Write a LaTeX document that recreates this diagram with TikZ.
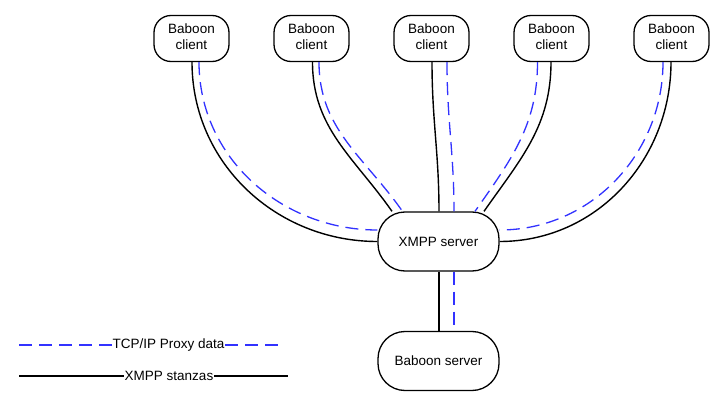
\documentclass[tikz,border=0pt]{standalone}
\usepackage{fontspec}
\setmainfont{Liberation Sans}
\usepackage{tikz}
\usetikzlibrary{calc}
\definecolor{proxy-blue}{RGB}{50, 50, 255}
\tikzset{
  client/.style={draw, line width=1.3pt, rounded corners=17pt, minimum width=75pt, minimum height=46pt, align=center, inner sep=0pt, font=\fontsize{13.5}{16}\selectfont},
  server/.style={draw, line width=1.3pt, rounded corners=27pt, minimum width=121pt, minimum height=59pt, inner sep=0pt, font=\fontsize{13.5}{16}\selectfont},
  stanza/.style={line width=1.4pt, black},
  proxy/.style={line width=1.3pt, proxy-blue, dash pattern=on 13pt off 7pt},
  legend/.style={fill=white, inner sep=0.5pt, font=\fontsize{13.5}{16}\selectfont}
}

\begin{document}
\begin{tikzpicture}[x=1pt,y=1pt]
   \useasboundingbox (0,0) rectangle (726,405);
   % clients on top
   \node[client] (c1) at (191.5,366.5) {Baboon\\client\vphantom{p}};
   \node[client] (c2) at (311.5,366.5) {Baboon\\client\vphantom{p}};
   \node[client] (c3) at (431.5,366.5) {Baboon\\client\vphantom{p}};
   \node[client] (c4) at (551.5,366.5) {Baboon\\client\vphantom{p}};
   \node[client] (c5) at (671.5,366.5) {Baboon\\client\vphantom{p}};
   % servers
   \node[server] (xmpp) at (438.5,163.5) {XMPP server};
   \node[server] (bsrv) at (438.5,44) {Baboon server};
   % xmpp stanzas
   \draw[stanza] ($(c1.south)+(0.5,0)$) to[out=-90,in=180] (xmpp.west);
   \draw[stanza] ($(c2.south)+(1,0)$) to[out=-90,in=125] ($(xmpp.north)+(-46.5,0)$);
   \draw[stanza] ($(c3.south)+(0.5,0)$) to[out=-90,in=90] ($(xmpp.north)+(0.5,0)$);
   \draw[stanza] ($(c4.south)+(-0.5,0)$) to[out=-90,in=55] ($(xmpp.north)+(45.5,0)$);
   \draw[stanza] ($(c5.south)+(-0.5,0)$) to[out=-90,in=0] (xmpp.east);
   \draw[stanza] ($(xmpp.south)+(0.5,0)$) -- ($(bsrv.north)+(0.5,0)$);
   % proxy data
   \draw[proxy] ($(c1.south)+(7.5,0)$) to[out=-90,in=180] ($(xmpp.west)+(0,11.5)$);
   \draw[proxy] ($(c2.south)+(7.5,0)$) to[out=-90,in=125] ($(xmpp.north)+(-36,0)$);
   \draw[proxy] ($(c3.south)+(15.5,0)$) to[out=-90,in=90] ($(xmpp.north)+(15.5,0)$);
   \draw[proxy] ($(c4.south)+(-14,0)$) to[out=-90,in=55] ($(xmpp.north)+(36.5,0)$);
   \draw[proxy] ($(c5.south)+(-8.5,0)$) to[out=-90,in=0] ($(xmpp.east)+(0,11.5)$);
   \draw[proxy] ($(xmpp.south)+(15.5,0)$) -- ($(bsrv.north)+(15.5,0)$);
   % legend
   \coordinate (tcpA) at (19,60);
   \coordinate (tcpB) at (282,60);
   \node[legend] (tcpLbl) at (168.5,60) {TCP/IP Proxy data};
   \draw[proxy] (tcpA) -- (tcpLbl) -- (tcpB);
   \coordinate (stzA) at (19,29);
   \coordinate (stzB) at (288,29);
   \node[legend] (stzLbl) at (169,29) {XMPP stanzas};
   \draw[stanza] (stzA) -- (stzLbl) -- (stzB);
\end{tikzpicture}
\end{document}
